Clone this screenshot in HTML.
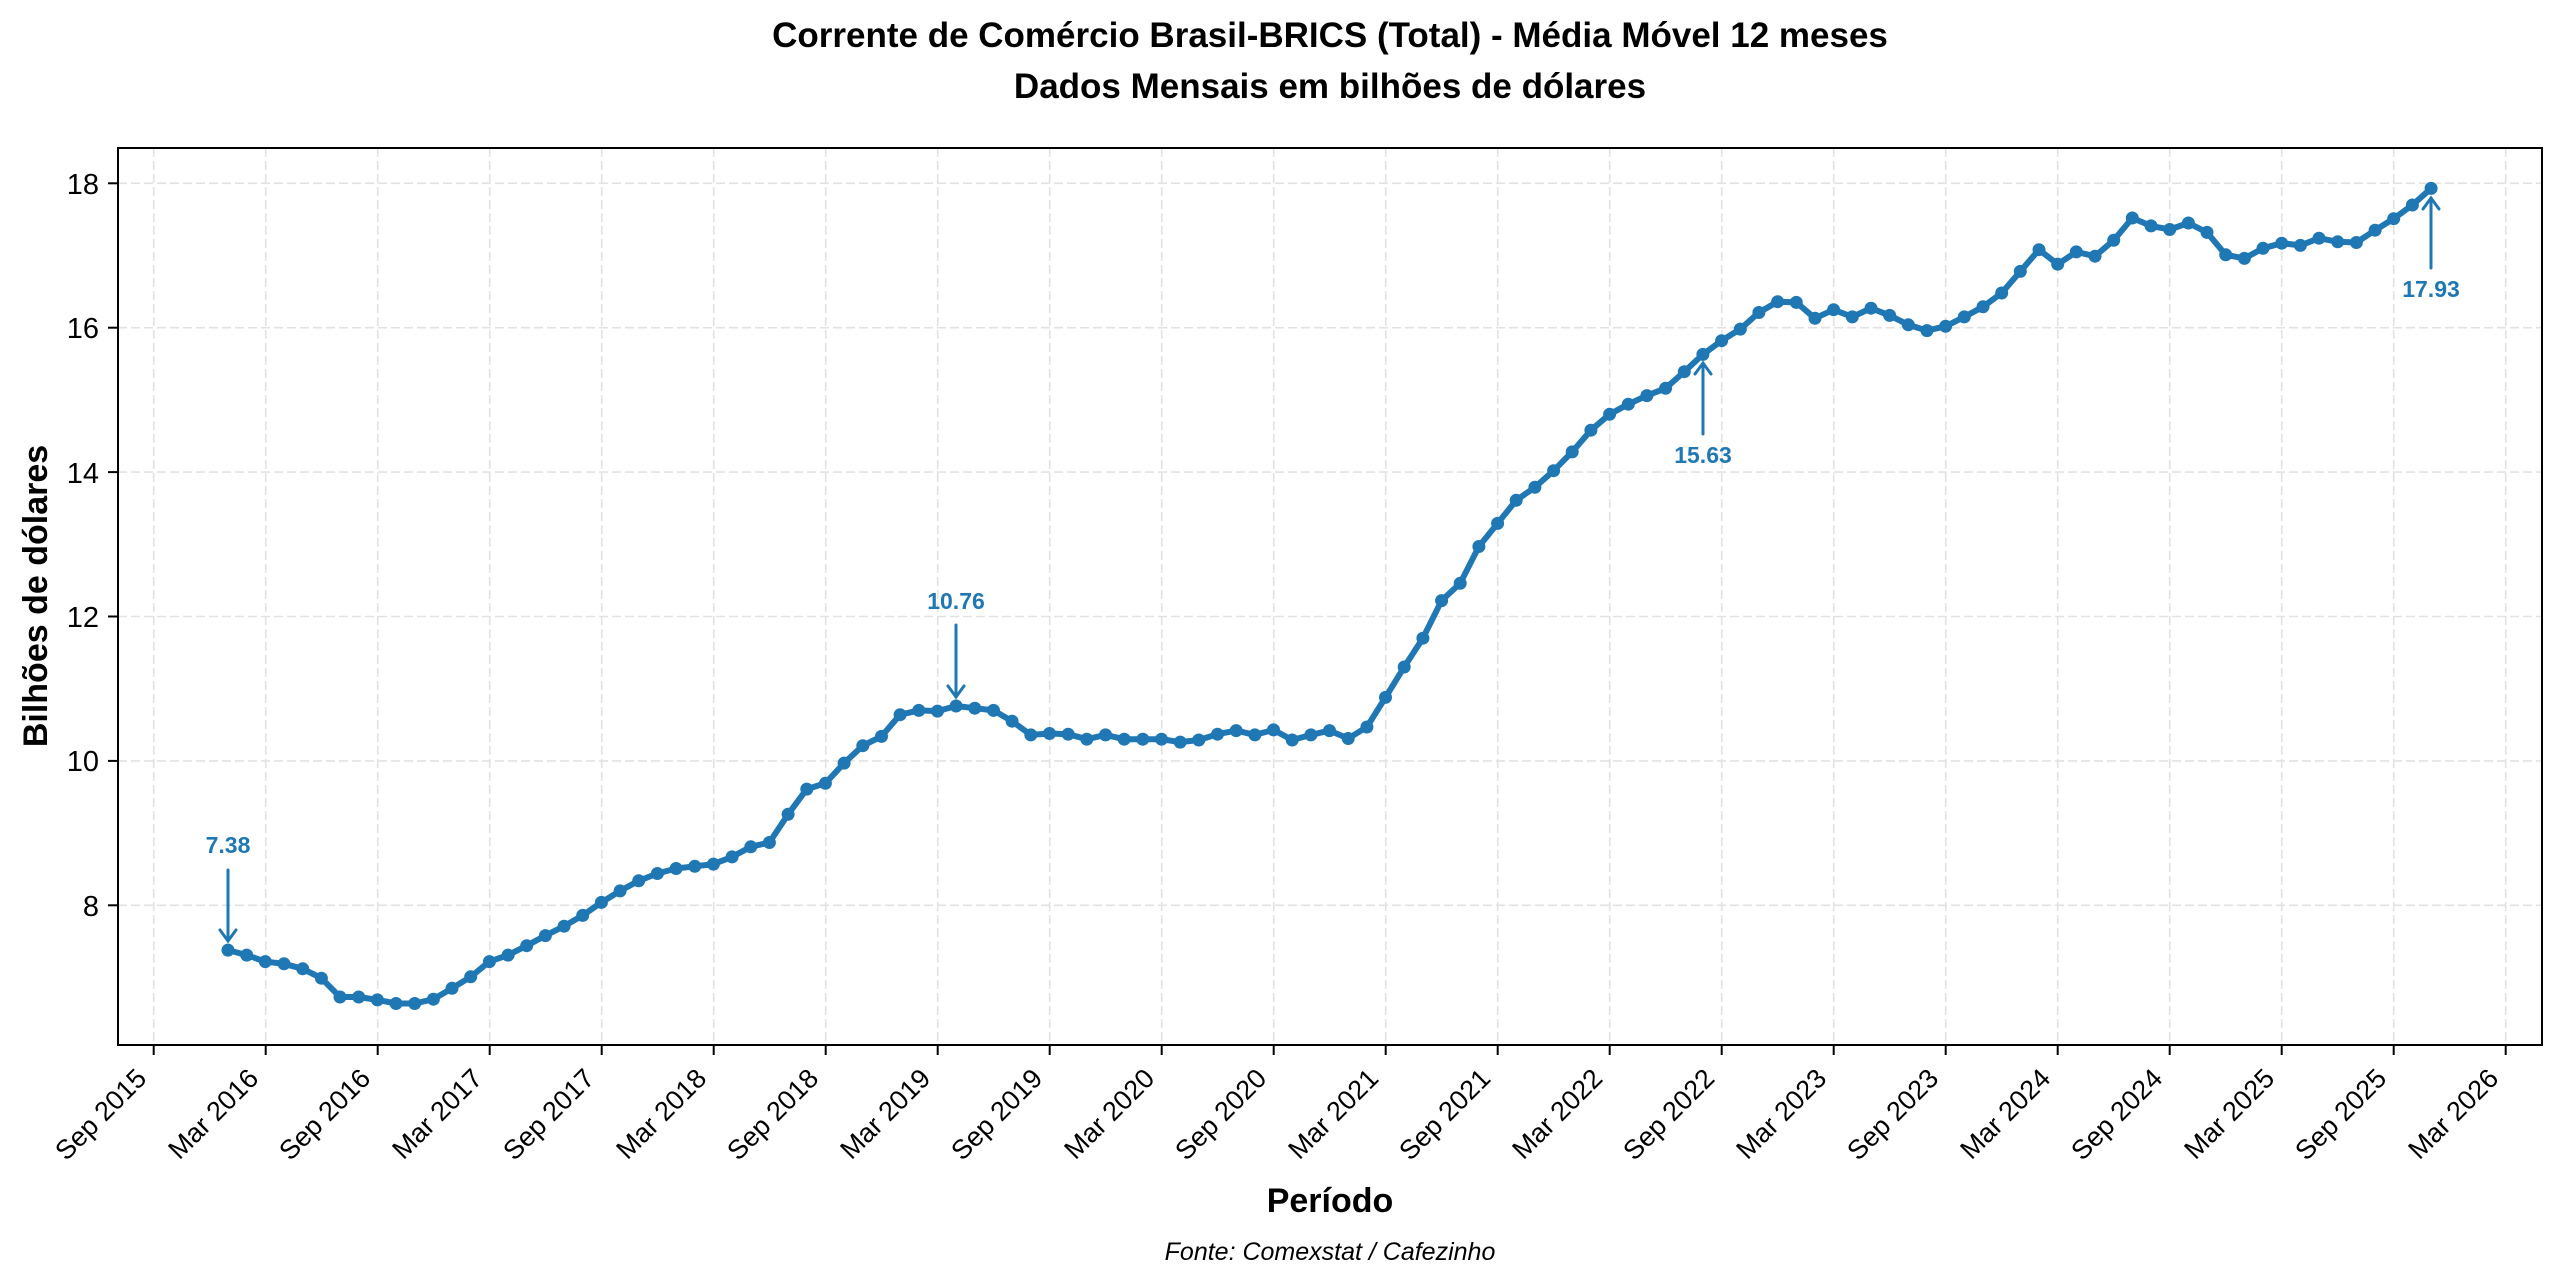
<!DOCTYPE html>
<html><head><meta charset="utf-8">
<style>
html,body{margin:0;padding:0;background:#fff;}
svg{display:block;}
text{font-family:"Liberation Sans","DejaVu Sans",sans-serif;}
</style></head>
<body>
<svg id="s" width="2560" height="1284" viewBox="0 0 2560 1284" xmlns="http://www.w3.org/2000/svg">
<rect width="2560" height="1284" fill="#fff"/>
<text x="1330" y="47" font-size="35" font-weight="bold" text-anchor="middle">Corrente de Comércio Brasil-BRICS (Total) - Média Móvel 12 meses</text>
<text x="1330" y="98" font-size="35" font-weight="bold" text-anchor="middle">Dados Mensais em bilhões de dólares</text>

<g stroke="#e2e2e2" stroke-width="1.6" stroke-dasharray="9,4" fill="none">
<line x1="118" x2="2542" y1="183.3" y2="183.3"/>
<line x1="118" x2="2542" y1="327.7" y2="327.7"/>
<line x1="118" x2="2542" y1="472.1" y2="472.1"/>
<line x1="118" x2="2542" y1="616.5" y2="616.5"/>
<line x1="118" x2="2542" y1="760.9" y2="760.9"/>
<line x1="118" x2="2542" y1="905.3" y2="905.3"/>
<line y1="148" y2="1045" x1="153.7" x2="153.7"/>
<line y1="148" y2="1045" x1="265.7" x2="265.7"/>
<line y1="148" y2="1045" x1="377.7" x2="377.7"/>
<line y1="148" y2="1045" x1="489.7" x2="489.7"/>
<line y1="148" y2="1045" x1="601.7" x2="601.7"/>
<line y1="148" y2="1045" x1="713.7" x2="713.7"/>
<line y1="148" y2="1045" x1="825.7" x2="825.7"/>
<line y1="148" y2="1045" x1="937.7" x2="937.7"/>
<line y1="148" y2="1045" x1="1049.7" x2="1049.7"/>
<line y1="148" y2="1045" x1="1161.7" x2="1161.7"/>
<line y1="148" y2="1045" x1="1273.7" x2="1273.7"/>
<line y1="148" y2="1045" x1="1385.7" x2="1385.7"/>
<line y1="148" y2="1045" x1="1497.7" x2="1497.7"/>
<line y1="148" y2="1045" x1="1609.7" x2="1609.7"/>
<line y1="148" y2="1045" x1="1721.7" x2="1721.7"/>
<line y1="148" y2="1045" x1="1833.7" x2="1833.7"/>
<line y1="148" y2="1045" x1="1945.7" x2="1945.7"/>
<line y1="148" y2="1045" x1="2057.7" x2="2057.7"/>
<line y1="148" y2="1045" x1="2169.7" x2="2169.7"/>
<line y1="148" y2="1045" x1="2281.7" x2="2281.7"/>
<line y1="148" y2="1045" x1="2393.7" x2="2393.7"/>
<line y1="148" y2="1045" x1="2505.7" x2="2505.7"/>
</g>

<g id="series"></g>

<g stroke="#1f77b4" stroke-width="3" fill="none" stroke-linecap="round">
<line x1="228" y1="870" x2="228" y2="940"/><polyline points="220,930 228,941 236,930"/>
<line x1="956" y1="625" x2="956" y2="697"/><polyline points="948,686 956,697 964,686"/>
<line x1="1703" y1="434" x2="1703" y2="363"/><polyline points="1695,374 1703,363 1711,374"/>
<line x1="2431" y1="268" x2="2431" y2="198"/><polyline points="2423,209 2431,198 2439,209"/>
</g>
<g fill="#1f77b4" font-size="23" font-weight="bold" text-anchor="middle">
<text x="228" y="853">7.38</text>
<text x="956" y="609">10.76</text>
<text x="1703" y="463">15.63</text>
<text x="2431" y="297">17.93</text>
</g>

<rect x="118" y="148" width="2424" height="897" fill="none" stroke="#000" stroke-width="2"/>

<g stroke="#000" stroke-width="2">
<line x1="108" x2="118" y1="183.3" y2="183.3"/>
<line x1="108" x2="118" y1="327.7" y2="327.7"/>
<line x1="108" x2="118" y1="472.1" y2="472.1"/>
<line x1="108" x2="118" y1="616.5" y2="616.5"/>
<line x1="108" x2="118" y1="760.9" y2="760.9"/>
<line x1="108" x2="118" y1="905.3" y2="905.3"/>
</g>
<g font-size="29" text-anchor="end">
<text x="99" y="194">18</text>
<text x="99" y="338">16</text>
<text x="99" y="483">14</text>
<text x="99" y="627">12</text>
<text x="99" y="771">10</text>
<text x="99" y="916">8</text>
</g>

<g stroke="#000" stroke-width="2">
<line y1="1045" y2="1055" x1="153.7" x2="153.7"/>
<line y1="1045" y2="1055" x1="265.7" x2="265.7"/>
<line y1="1045" y2="1055" x1="377.7" x2="377.7"/>
<line y1="1045" y2="1055" x1="489.7" x2="489.7"/>
<line y1="1045" y2="1055" x1="601.7" x2="601.7"/>
<line y1="1045" y2="1055" x1="713.7" x2="713.7"/>
<line y1="1045" y2="1055" x1="825.7" x2="825.7"/>
<line y1="1045" y2="1055" x1="937.7" x2="937.7"/>
<line y1="1045" y2="1055" x1="1049.7" x2="1049.7"/>
<line y1="1045" y2="1055" x1="1161.7" x2="1161.7"/>
<line y1="1045" y2="1055" x1="1273.7" x2="1273.7"/>
<line y1="1045" y2="1055" x1="1385.7" x2="1385.7"/>
<line y1="1045" y2="1055" x1="1497.7" x2="1497.7"/>
<line y1="1045" y2="1055" x1="1609.7" x2="1609.7"/>
<line y1="1045" y2="1055" x1="1721.7" x2="1721.7"/>
<line y1="1045" y2="1055" x1="1833.7" x2="1833.7"/>
<line y1="1045" y2="1055" x1="1945.7" x2="1945.7"/>
<line y1="1045" y2="1055" x1="2057.7" x2="2057.7"/>
<line y1="1045" y2="1055" x1="2169.7" x2="2169.7"/>
<line y1="1045" y2="1055" x1="2281.7" x2="2281.7"/>
<line y1="1045" y2="1055" x1="2393.7" x2="2393.7"/>
<line y1="1045" y2="1055" x1="2505.7" x2="2505.7"/>
</g>
<g font-size="27" text-anchor="end">
<text transform="translate(148,1080) rotate(-45)">Sep 2015</text>
<text transform="translate(260,1080) rotate(-45)">Mar 2016</text>
<text transform="translate(372,1080) rotate(-45)">Sep 2016</text>
<text transform="translate(484,1080) rotate(-45)">Mar 2017</text>
<text transform="translate(596,1080) rotate(-45)">Sep 2017</text>
<text transform="translate(708,1080) rotate(-45)">Mar 2018</text>
<text transform="translate(820,1080) rotate(-45)">Sep 2018</text>
<text transform="translate(932,1080) rotate(-45)">Mar 2019</text>
<text transform="translate(1044,1080) rotate(-45)">Sep 2019</text>
<text transform="translate(1156,1080) rotate(-45)">Mar 2020</text>
<text transform="translate(1268,1080) rotate(-45)">Sep 2020</text>
<text transform="translate(1380,1080) rotate(-45)">Mar 2021</text>
<text transform="translate(1492,1080) rotate(-45)">Sep 2021</text>
<text transform="translate(1604,1080) rotate(-45)">Mar 2022</text>
<text transform="translate(1716,1080) rotate(-45)">Sep 2022</text>
<text transform="translate(1828,1080) rotate(-45)">Mar 2023</text>
<text transform="translate(1940,1080) rotate(-45)">Sep 2023</text>
<text transform="translate(2052,1080) rotate(-45)">Mar 2024</text>
<text transform="translate(2164,1080) rotate(-45)">Sep 2024</text>
<text transform="translate(2276,1080) rotate(-45)">Mar 2025</text>
<text transform="translate(2388,1080) rotate(-45)">Sep 2025</text>
<text transform="translate(2500,1080) rotate(-45)">Mar 2026</text>
</g>

<text x="1330" y="1212" font-size="34" font-weight="bold" text-anchor="middle">Período</text>
<text x="1330" y="1260" font-size="25" font-style="italic" text-anchor="middle">Fonte: Comexstat / Cafezinho</text>
<text transform="translate(47,596) rotate(-90)" font-size="34" font-weight="bold" text-anchor="middle">Bilhões de dólares</text>
</svg>
<script>
var d=[7.38,7.31,7.22,7.19,7.12,6.99,6.73,6.73,6.69,6.64,
6.64,6.70,6.85,7.01,7.22,7.31,7.44,7.58,7.71,7.86,
8.04,8.20,8.34,8.44,8.51,8.54,8.57,8.67,8.81,8.87,
9.26,9.61,9.69,9.97,10.21,10.34,10.64,10.70,10.69,10.76,
10.73,10.70,10.55,10.36,10.38,10.37,10.30,10.36,10.30,10.30,
10.30,10.26,10.29,10.37,10.42,10.36,10.43,10.29,10.36,10.42,
10.31,10.47,10.88,11.30,11.70,12.22,12.46,12.97,13.29,13.61,
13.79,14.02,14.28,14.58,14.80,14.94,15.06,15.16,15.39,15.63,
15.82,15.98,16.21,16.36,16.35,16.13,16.25,16.15,16.27,16.17,
16.04,15.96,16.02,16.15,16.29,16.48,16.78,17.08,16.88,17.05,
16.99,17.21,17.52,17.41,17.36,17.45,17.32,17.01,16.96,17.10,
17.17,17.14,17.24,17.19,17.18,17.35,17.51,17.70,17.93];
var ns="http://www.w3.org/2000/svg",g=document.getElementById("series"),pts=[];
for(var i=0;i<d.length;i++){var x=228+i*18.67,y=183.3+(18-d[i])*72.2;pts.push(x.toFixed(1)+","+y.toFixed(1));}
var pl=document.createElementNS(ns,"polyline");
pl.setAttribute("points",pts.join(" "));pl.setAttribute("fill","none");pl.setAttribute("stroke","#1f77b4");
pl.setAttribute("stroke-width","6");pl.setAttribute("stroke-linejoin","round");g.appendChild(pl);
for(var i=0;i<pts.length;i++){var p=pts[i].split(","),c=document.createElementNS(ns,"circle");
c.setAttribute("cx",p[0]);c.setAttribute("cy",p[1]);c.setAttribute("r","6.5");c.setAttribute("fill","#1f77b4");g.appendChild(c);}
</script>
</body></html>
